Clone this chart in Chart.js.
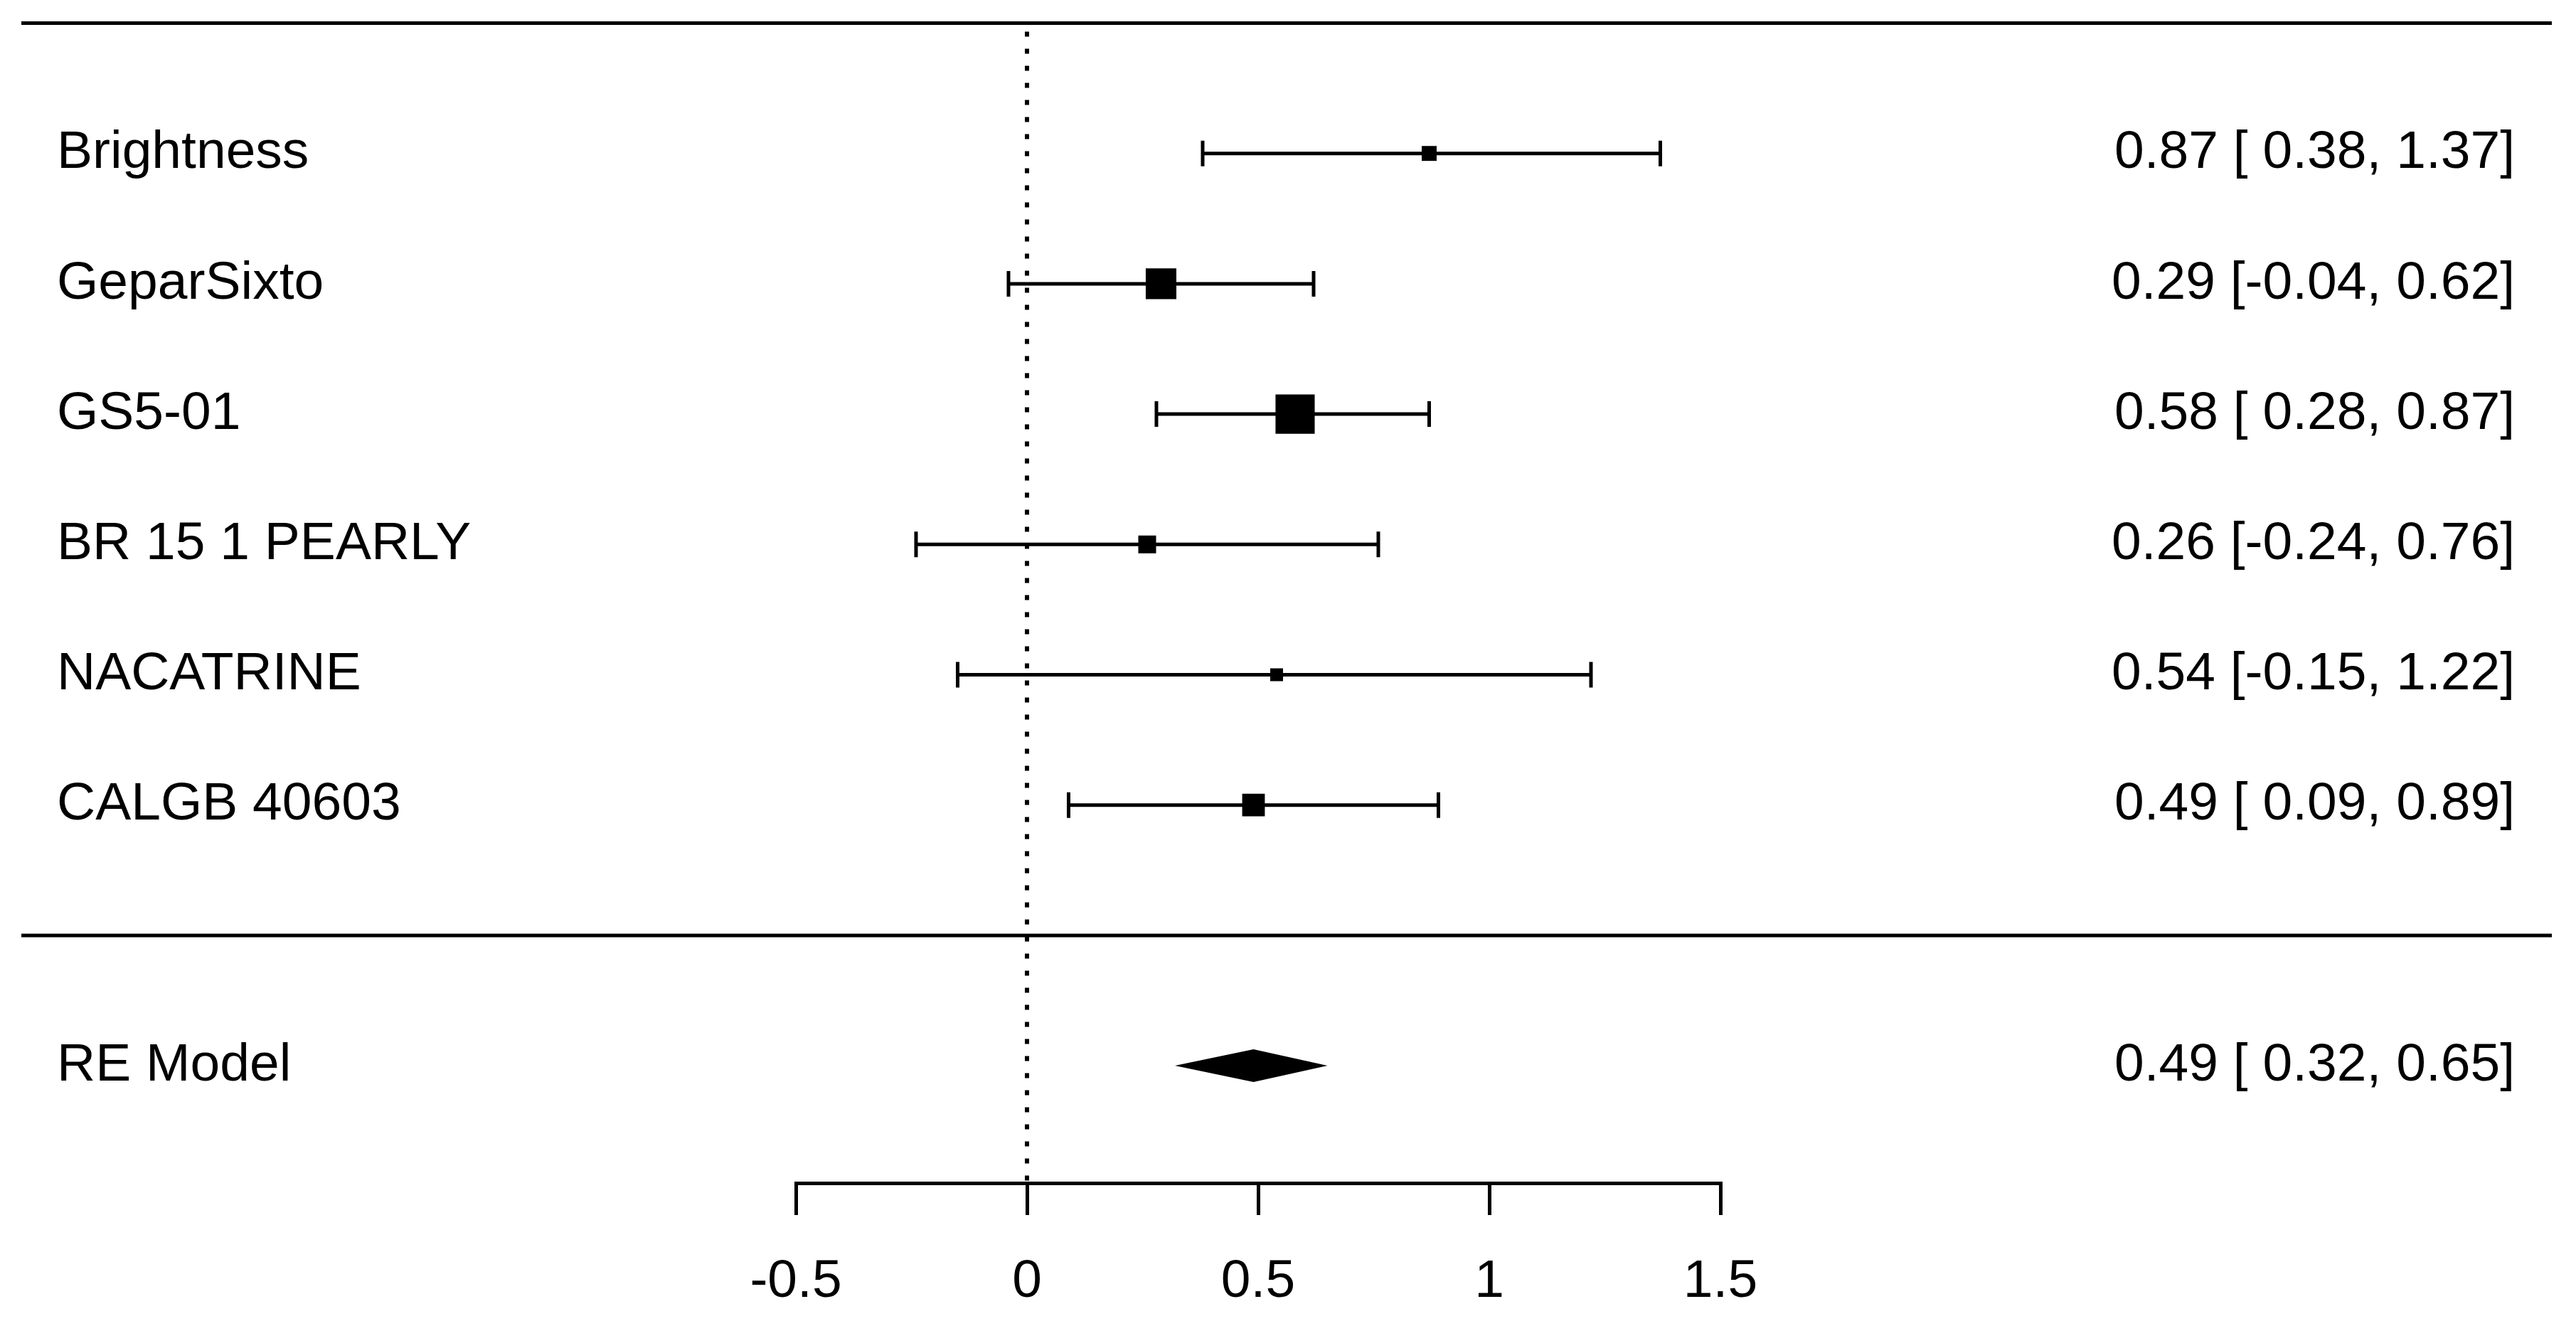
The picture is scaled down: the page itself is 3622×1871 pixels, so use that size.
<!DOCTYPE html>
<html>
<head>
<meta charset="utf-8">
<title>Forest plot</title>
<script src="https://cdn.jsdelivr.net/npm/chart.js@4.4.1/dist/chart.umd.min.js"></script>
<style>
    html, body { margin: 0; padding: 0; background: #fff; }
    .chart-box { width: 3622px; height: 1871px; }
</style>
</head>
<body>
<div class="chart-box"><canvas id="forestChart"></canvas></div>
<script>
const studies = ['Brightness', 'GeparSixto', 'GS5-01', 'BR 15 1 PEARLY', 'NACATRINE', 'CALGB 40603'];
const estimates = [0.87, 0.29, 0.58, 0.26, 0.54, 0.49];
const lowerCI = [0.38, -0.04, 0.28, -0.24, -0.15, 0.09];
const upperCI = [1.37, 0.62, 0.87, 0.76, 1.22, 0.89];
const weights = [10.8, 22.2, 28.4, 12.9, 9.3, 16.4];
const summaryLabel = 'RE Model';
const summaryEst = [0.49];
const summaryLower = [0.32];
const summaryUpper = [0.65];
const xTicks = [-0.5, 0, 0.5, 1, 1.5];

const fontFamily = "'Liberation Sans', Arial, sans-serif";
const k = studies.length;
// rows k..1 for studies, 0 = separator, -1 = summary, k+1 = top rule
const rowOf = i => k - i;

function fmtCI(est, lo, hi) {
    const sign = v => (v < 0 ? '-' : ' ') + Math.abs(v).toFixed(2);
    return est.toFixed(2) + ' [' + sign(lo) + ', ' + hi.toFixed(2) + ']';
}

const forestPlugin = {
    id: 'forestPlugin',
    beforeDatasetsDraw(chart) {
        const { ctx, chartArea } = chart;
        const x = chart.scales.x;
        const y = chart.scales.y;
        ctx.save();
        ctx.strokeStyle = '#000';

        // reference line at 0
        ctx.lineWidth = 6;
        ctx.setLineDash([7, 17]);
        ctx.beginPath();
        ctx.moveTo(x.getPixelForValue(0), y.getPixelForValue(k + 1) + 12);
        ctx.lineTo(x.getPixelForValue(0), chartArea.bottom);
        ctx.stroke();
        ctx.setLineDash([]);

        // top rule and separator
        ctx.lineWidth = 5;
        [k + 1, 0].forEach(r => {
            const py = y.getPixelForValue(r);
            ctx.beginPath();
            ctx.moveTo(30, py);
            ctx.lineTo(3588, py);
            ctx.stroke();
        });

        // confidence intervals
        studies.forEach((s, i) => {
            const py = y.getPixelForValue(rowOf(i));
            const x1 = x.getPixelForValue(lowerCI[i]);
            const x2 = x.getPixelForValue(upperCI[i]);
            ctx.lineWidth = 5;
            ctx.beginPath();
            ctx.moveTo(x1, py);
            ctx.lineTo(x2, py);
            ctx.moveTo(x1, py - 18);
            ctx.lineTo(x1, py + 18);
            ctx.moveTo(x2, py - 18);
            ctx.lineTo(x2, py + 18);
            ctx.stroke();
        });

        // text columns
        ctx.fillStyle = '#000';
        ctx.font = '75px ' + fontFamily;
        ctx.textBaseline = 'middle';
        studies.forEach((s, i) => {
            const py = y.getPixelForValue(rowOf(i));
            ctx.textAlign = 'left';
            ctx.fillText(s, 80, py);
            ctx.textAlign = 'right';
            ctx.fillText(fmtCI(estimates[i], lowerCI[i], upperCI[i]), 3536, py);
        });
        const sy = y.getPixelForValue(-1);
        ctx.textAlign = 'left';
        ctx.fillText(summaryLabel, 80, sy);
        ctx.textAlign = 'right';
        ctx.fillText(fmtCI(summaryEst[0], summaryLower[0], summaryUpper[0]), 3536, sy);
        ctx.restore();
    },
    afterDatasetsDraw(chart) {
        const { ctx } = chart;
        const x = chart.scales.x;
        const y = chart.scales.y;
        const sy = y.getPixelForValue(-1);
        ctx.save();
        ctx.fillStyle = '#000';
        ctx.beginPath();
        ctx.moveTo(x.getPixelForValue(summaryLower[0]), sy);
        ctx.lineTo(x.getPixelForValue(summaryEst[0]), sy - 23);
        ctx.lineTo(x.getPixelForValue(summaryUpper[0]), sy);
        ctx.lineTo(x.getPixelForValue(summaryEst[0]), sy + 23);
        ctx.closePath();
        ctx.fill();
        ctx.restore();
    }
};

const ctx = document.getElementById('forestChart');

new Chart(ctx, {
    type: 'scatter',
    data: {
        datasets: [{
            label: 'Studies',
            data: studies.map((s, i) => ({ x: estimates[i], y: rowOf(i) })),
            pointStyle: 'rect',
            pointRadius: c => (weights[c.dataIndex] * 1.94) / Math.SQRT2,
            pointHoverRadius: c => (weights[c.dataIndex] * 1.94) / Math.SQRT2,
            backgroundColor: '#000',
            borderColor: '#000',
            borderWidth: 0
        }]
    },
    options: {
        responsive: true,
        maintainAspectRatio: false,
        animation: false,
        events: [],
        layout: {
            autoPadding: false,
            padding: { left: 1119, right: 1203, top: 5, bottom: 0 }
        },
        plugins: {
            legend: { display: false },
            tooltip: { enabled: false }
        },
        scales: {
            x: {
                type: 'linear',
                min: -0.5,
                max: 1.5,
                afterBuildTicks: s => { s.ticks = xTicks.map(v => ({ value: v })); },
                afterFit: s => { s.height = 208; },
                border: { display: true, color: '#000', width: 5 },
                grid: {
                    drawOnChartArea: false,
                    drawTicks: true,
                    tickLength: 45,
                    color: '#000',
                    lineWidth: 5
                },
                ticks: {
                    color: '#000',
                    padding: 49,
                    autoSkip: false,
                    maxRotation: 0,
                    font: { family: fontFamily, size: 75 },
                    callback: v => String(v)
                }
            },
            y: {
                display: false,
                min: -1.9,
                max: 7.15
            }
        }
    },
    plugins: [forestPlugin]
});
</script>
</body>
</html>
